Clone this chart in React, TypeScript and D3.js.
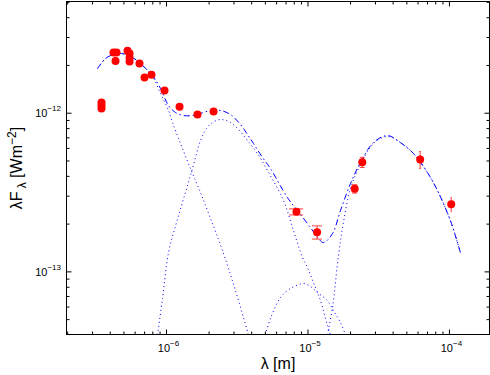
import React from "react";
import * as d3 from "d3";

// Photometry (wavelength in m, lambda*F_lambda in W m^-2)
const obsLambda = [3.47e-7, 3.47e-7, 3.47e-7, 4.22e-7, 4.43e-7, 4.36e-7, 5.3e-7, 5.48e-7, 5.48e-7, 5.48e-7, 6.44e-7, 6.99e-7, 7.83e-7, 9.68e-7, 1.236e-6, 1.656e-6, 2.15e-6];
const obsFlux = [1.168e-12, 1.118e-12, 1.07e-12, 2.41e-12, 2.41e-12, 2.13e-12, 2.48e-12, 2.38e-12, 2.24e-12, 2.12e-12, 2.06e-12, 1.68e-12, 1.75e-12, 1.39e-12, 1.1e-12, 9.81e-13, 1.025e-12];

// IR photometry with error bars
const irLambda = [8.29e-6, 1.16e-5, 2.14e-5, 2.42e-5, 6.21e-5, 1.03e-4];
const irFlux = [2.39e-13, 1.78e-13, 3.34e-13, 4.91e-13, 5.11e-13, 2.67e-13];
const irErr = [1.05e-14, 1.7e-14, 2.0e-14, 3.6e-14, 6.2e-14, 2.7e-14];

// Model total (dash-dot)
const totLambda = [3.254e-7, 3.706e-7, 4.22e-7, 4.808e-7, 5.75e-7, 6.77e-7, 7.96e-7, 9.07e-7, 1.033e-6, 1.158e-6, 1.319e-6, 1.526e-6, 1.739e-6, 2.046e-6, 2.408e-6, 2.834e-6, 3.334e-6, 3.736e-6, 4.12e-6, 4.77e-6, 5.43e-6, 7.16e-6, 8.43e-6, 1.042e-5, 1.187e-5, 1.287e-5, 1.49e-5, 1.697e-5, 1.997e-5, 2.35e-5, 2.903e-5, 3.646e-5, 4.505e-5, 5.567e-5, 6.99e-5, 8.23e-5, 1.016e-4, 1.196e-4];
const totFlux = [1.913e-12, 2.213e-12, 2.345e-12, 2.379e-12, 2.245e-12, 1.999e-12, 1.729e-12, 1.431e-12, 1.118e-12, 1.01e-12, 9.67e-13, 9.67e-13, 9.96e-13, 1.04e-12, 1.04e-12, 9.81e-13, 8.49e-13, 7.34e-13, 6.44e-13, 5.26e-13, 4.48e-13, 2.94e-13, 2.434e-13, 1.902e-13, 1.622e-13, 1.53e-13, 1.743e-13, 2.434e-13, 3.6e-13, 4.89e-13, 6.53e-13, 7.23e-13, 6.53e-13, 5.57e-13, 4.23e-13, 3.256e-13, 2.106e-13, 1.323e-13];

// Stellar component (dotted)
const starLambda = [3.254e-7, 3.706e-7, 4.22e-7, 4.808e-7, 5.75e-7, 6.77e-7, 7.96e-7, 9.07e-7, 1.033e-6, 1.102e-6, 1.256e-6, 1.477e-6, 1.739e-6, 2.046e-6, 2.488e-6, 3.073e-6, 3.798e-6];
const starFlux = [1.913e-12, 2.213e-12, 2.345e-12, 2.379e-12, 2.245e-12, 1.999e-12, 1.704e-12, 1.331e-12, 1.04e-12, 8.74e-13, 6.44e-13, 4.48e-13, 3.162e-13, 2.168e-13, 1.362e-13, 7.62e-14, 4.02e-14];

// Warm dust component (dotted)
const warmLambda = [8.64e-7, 9.37e-7, 1.033e-6, 1.177e-6, 1.341e-6, 1.526e-6, 1.739e-6, 1.918e-6, 2.114e-6, 2.408e-6, 2.834e-6, 3.227e-6, 3.736e-6, 4.397e-6, 5.173e-6, 6.713e-6, 7.898e-6, 9.145e-6, 9.92e-6, 1.094e-5, 1.226e-5, 1.373e-5, 1.442e-5];
const warmFlux = [4.02e-14, 6.79e-14, 1.323e-13, 2.046e-13, 3.03e-13, 4.48e-13, 6.73e-13, 8.01e-13, 8.74e-13, 9.13e-13, 8.74e-13, 7.89e-13, 6.73e-13, 5.57e-13, 4.35e-13, 2.816e-13, 1.822e-13, 1.231e-13, 1.064e-13, 8.56e-14, 6.59e-14, 4.59e-14, 4.02e-14];

// ~10 micron component (dotted)
const humpLambda = [5.006e-6, 5.43e-6, 6.39e-6, 7.52e-6, 9.295e-6, 1.042e-5, 1.167e-5, 1.373e-5, 1.514e-5, 1.697e-5, 1.841e-5];
const humpFlux = [4.02e-14, 5.08e-14, 6.89e-14, 7.85e-14, 8.44e-14, 8.08e-14, 7.41e-14, 6.59e-14, 5.7e-14, 4.79e-14, 4.02e-14];

// Cold dust component (dotted)
const coldLambda = [1.373e-5, 1.49e-5, 1.643e-5, 1.781e-5, 1.997e-5, 2.35e-5, 2.903e-5, 3.646e-5, 4.505e-5, 5.567e-5, 6.99e-5, 8.23e-5, 1.016e-4, 1.196e-4];
const coldFlux = [4.02e-14, 5.95e-14, 1.267e-13, 2.046e-13, 3.35e-13, 4.75e-13, 6.44e-13, 7.13e-13, 6.53e-13, 5.57e-13, 4.23e-13, 3.256e-13, 2.106e-13, 1.323e-13];

const xMajor = [1e-6, 1e-5, 1e-4];
const xMajorExp = ["−6", "−5", "−4"];
const yMajor = [1e-13, 1e-12];
const yMajorExp = ["−13", "−12"];

const W = 490, H = 375;
const L = 66.5, R = 489.5, T = 1.5, B = 334.5;

export default function App() {
  const x = d3.scaleLog().domain([1.963e-7, 1.92e-4]).range([L, R]);
  const y = d3.scaleLog().domain([4.03e-14, 5.06e-12]).range([B, T]);

  const line = d3.line<[number, number]>()
    .x((d) => x(d[0]))
    .y((d) => y(d[1]))
    .curve(d3.curveCatmullRom);

  const zip = (a: number[], b: number[]) => a.map((v, i) => [v, b[i]] as [number, number]);

  // minor ticks
  const xMinor: number[] = [];
  for (let e = -7; e <= -4; e++) for (let m = 2; m <= 9; m++) {
    const v = m * Math.pow(10, e);
    if (v > 1.963e-7 && v < 1.92e-4) xMinor.push(v);
  }
  const yMinor: number[] = [];
  for (let e = -14; e <= -12; e++) for (let m = 2; m <= 9; m++) {
    const v = m * Math.pow(10, e);
    if (v > 4.03e-14 && v < 5.06e-12) yMinor.push(v);
  }
  const tee = (d3.max(irLambda)! - d3.min(irLambda)!) / 100;

  const blue = "#0000ff";
  const red = "#ff0000";

  return (
    <svg width={W} height={H} style={{ position: "absolute", left: 0, top: 0, background: "#fff" }}
      fontFamily="'Liberation Sans', Arial, Helvetica, sans-serif">
      <defs>
        <clipPath id="plot">
          <rect x={L} y={T} width={R - L} height={B - T} />
        </clipPath>
      </defs>
      <rect x={0} y={0} width={W} height={H} fill="#fff" />

      <g clipPath="url(#plot)" fill="none">
        <path d={line(zip(starLambda, starFlux))!} stroke={blue} strokeWidth={1} strokeDasharray="1,3" />
        <path d={line(zip(warmLambda, warmFlux))!} stroke={blue} strokeWidth={1} strokeDasharray="1,3" />
        <path d={line(zip(humpLambda, humpFlux))!} stroke={blue} strokeWidth={1} strokeDasharray="1,3" />
        <path d={line(zip(coldLambda, coldFlux))!} stroke={blue} strokeWidth={1} strokeDasharray="1,3" />
        <path d={line(zip(totLambda, totFlux))!} stroke={blue} strokeWidth={1} strokeDasharray="6,3,1.5,3" />
      </g>

      {/* error bars */}
      <g stroke={red} strokeWidth={1} opacity={0.75}>
        {irLambda.map((l, i) => {
          const y1 = y(irFlux[i] - irErr[i]);
          const y2 = y(irFlux[i] + irErr[i]);
          const xa = x(l - tee), xb = x(l + tee), xc = x(l);
          return (
            <g key={i}>
              <line x1={xc} x2={xc} y1={y1} y2={y2} />
              <line x1={xa} x2={xb} y1={y1} y2={y1} />
              <line x1={xa} x2={xb} y1={y2} y2={y2} />
            </g>
          );
        })}
      </g>

      {/* markers */}
      <g fill={red}>
        {obsLambda.map((l, i) => (
          <circle key={"o" + i} cx={x(l)} cy={y(obsFlux[i])} r={4} />
        ))}
        {irLambda.map((l, i) => (
          <circle key={"i" + i} cx={x(l)} cy={y(irFlux[i])} r={4} />
        ))}
      </g>

      {/* frame */}
      <rect x={L} y={T} width={R - L} height={B - T} fill="none" stroke="#000" strokeWidth={1} />

      {/* ticks */}
      <g stroke="#000" strokeWidth={1}>
        {xMajor.map((v, i) => (
          <g key={"xm" + i}>
            <line x1={x(v)} x2={x(v)} y1={B} y2={B - 5} />
            <line x1={x(v)} x2={x(v)} y1={T} y2={T + 5} />
          </g>
        ))}
        {xMinor.map((v, i) => (
          <g key={"xn" + i}>
            <line x1={x(v)} x2={x(v)} y1={B} y2={B - 3} />
            <line x1={x(v)} x2={x(v)} y1={T} y2={T + 3} />
          </g>
        ))}
        {yMajor.map((v, i) => (
          <g key={"ym" + i}>
            <line x1={L} x2={L + 5} y1={y(v)} y2={y(v)} />
            <line x1={R} x2={R - 5} y1={y(v)} y2={y(v)} />
          </g>
        ))}
        {yMinor.map((v, i) => (
          <g key={"yn" + i}>
            <line x1={L} x2={L + 3} y1={y(v)} y2={y(v)} />
            <line x1={R} x2={R - 3} y1={y(v)} y2={y(v)} />
          </g>
        ))}
      </g>

      {/* tick labels */}
      <g fill="#000">
        {xMajor.map((v, i) => (
          <text key={"xl" + i} x={x(v) + 2} y={352} fontSize={11} textAnchor="middle">
            10<tspan fontSize={8} dy={-6}>{xMajorExp[i]}</tspan>
          </text>
        ))}
        {yMajor.map((v, i) => (
          <text key={"yl" + i} x={61} y={y(v) + 4} fontSize={11} textAnchor="end">
            10<tspan fontSize={8} dy={-6}>{yMajorExp[i]}</tspan>
          </text>
        ))}
      </g>

      {/* axis labels */}
      <text x={(L + R) / 2} y={369} fontSize={16} textAnchor="middle">λ [m]</text>
      <text transform={`translate(22, ${(T + B) / 2}) rotate(-90)`} fontSize={16} textAnchor="middle">
        λF<tspan fontSize={12} dx={3} dy={4}>λ</tspan><tspan dy={-4}> [Wm</tspan><tspan fontSize={12} dy={-6}>−2</tspan><tspan dy={6}>]</tspan>
      </text>
    </svg>
  );
}
